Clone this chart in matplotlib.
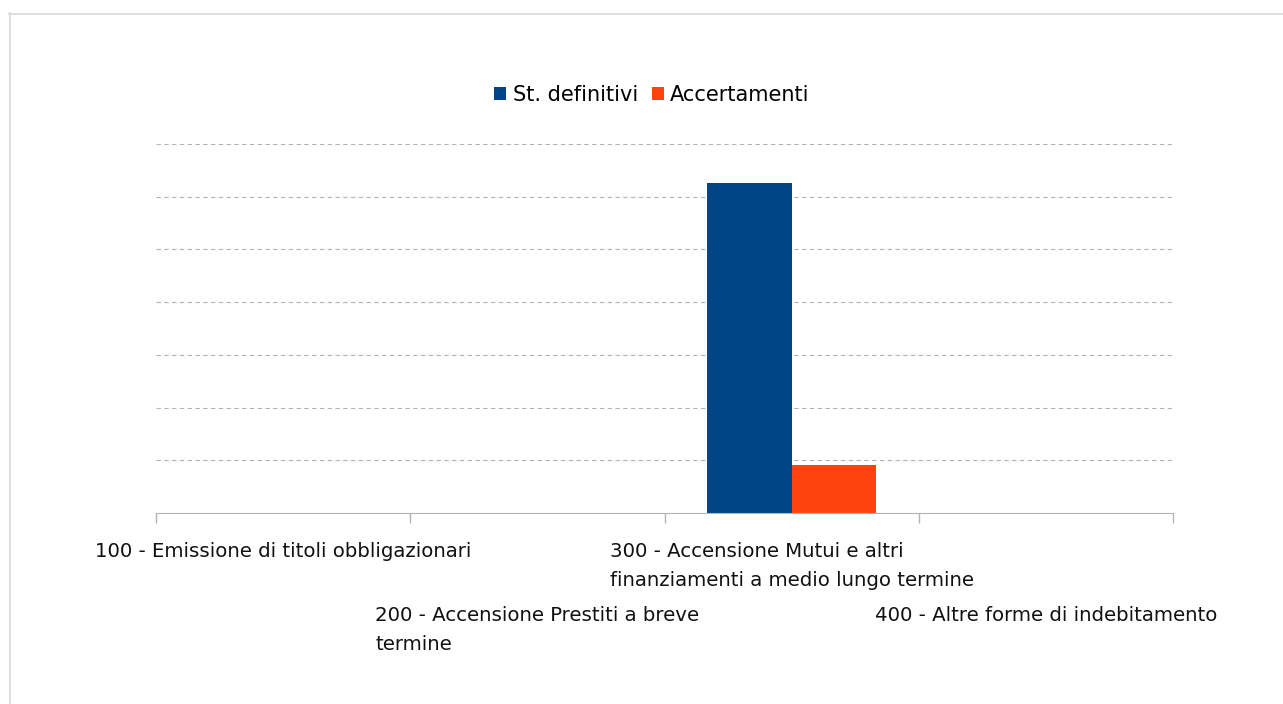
import matplotlib
matplotlib.use("Agg")
import matplotlib.pyplot as plt
from matplotlib.lines import Line2D
import numpy as np

categories = [
    "100 - Emissione di titoli obbligazionari",
    "200 - Accensione Prestiti a breve\ntermine",
    "300 - Accensione Mutui e altri\nfinanziamenti a medio lungo termine",
    "400 - Altre forme di indebitamento",
]
series_names = ["St. definitivi", "Accertamenti"]
st_definitivi = [0.0, 0.0, 6.26, 0.0]
accertamenti = [0.0, 0.0, 0.91, 0.0]
colors = ["#004586", "#ff420e"]

plt.rcParams['font.family'] = ['DejaVu Sans']
plt.rcParams['font.sans-serif'] = ['DejaVu Sans']

W, H = 1283, 704
fig = plt.figure(figsize=(W / 100, H / 100), dpi=100)

L, R, B, T = 156, 1173, 513, 144
ax = fig.add_axes([L / W, 1 - B / H, (R - L) / W, (B - T) / H])

x = np.arange(len(categories)) + 0.5
bw = 1 / 3
ax.bar(x - bw / 2, st_definitivi, width=bw, color=colors[0], label=series_names[0], zorder=3)
ax.bar(x + bw / 2, accertamenti, width=bw, color=colors[1], label=series_names[1], zorder=3)

ax.set_xlim(0, len(categories))
ax.set_ylim(0, 7)
ax.set_yticks(np.arange(1, 8))
ax.yaxis.grid(True, color="#b3b3b3", linestyle=(0, (4, 3)), linewidth=0.8, zorder=0)
ax.tick_params(axis='y', left=False, labelleft=False)
ax.set_xticks(np.arange(0, len(categories) + 1))
ax.tick_params(axis='x', direction='out', length=7.2, color="#b3b3b3", width=1, labelbottom=False)
for s in ["top", "right", "left"]:
    ax.spines[s].set_visible(False)
ax.spines["bottom"].set_color("#b3b3b3")
ax.spines["bottom"].set_zorder(4)

fs = 14.2
fam = ['DejaVu Sans']
row_y = [542, 606]
for i, lab in enumerate(categories):
    ypix = row_y[i % 2]
    fig.text(((L + (R - L) * (i + 0.5) / len(categories))) / W, 1 - ypix / H, lab,
             ha='center', va='top', multialignment='left', fontsize=fs,
             family=fam, linespacing=1.65, color="#111111")

lfs = 15
leg = fig.legend(loc='center', bbox_to_anchor=(652 / W, 1 - 95 / H), ncol=2, frameon=False,
                 prop={'family': fam, 'size': lfs}, handlelength=0.58, handleheight=0.58,
                 handletextpad=0.3, columnspacing=0.67)

fig.add_artist(Line2D([9.5 / W, 9.5 / W], [0, 1 - 13 / H], color="#d9d9d9", lw=1.2, transform=fig.transFigure))
fig.add_artist(Line2D([9 / W, 1], [1 - 13.5 / H, 1 - 13.5 / H], color="#d9d9d9", lw=1.2, transform=fig.transFigure))

fig.savefig("out.png", dpi=100)
